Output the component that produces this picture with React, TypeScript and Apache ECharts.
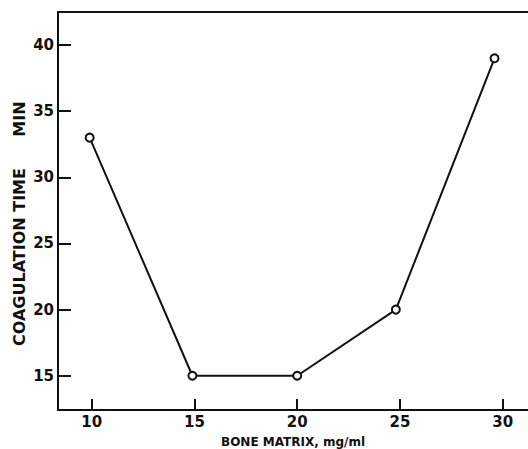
import React, { useEffect, useRef } from "react";
import * as echarts from "echarts";

const boneMatrix = [9.9, 14.9, 20, 24.8, 29.6];
const coagulationTime = [33, 15, 15, 20, 39];
const xTicks = [10, 15, 20, 25, 30];
const yTicks = [15, 20, 25, 30, 35, 40];
const xTitle = "BONE MATRIX, mg/ml";
const yTitleMain = "COAGULATION TIME";
const yTitleUnit = "MIN";

export default function App() {
  const ref = useRef<HTMLDivElement>(null);
  useEffect(() => {
    if (!ref.current) return;
    const chart = echarts.init(ref.current, null, { renderer: "svg" });
    const labelFont = {
      fontFamily: "DejaVu Sans",
      fontWeight: "bold" as const,
      fontSize: 15,
      color: "#111",
    };
    chart.setOption({
      animation: false,
      backgroundColor: "#fff",
      grid: {
        left: 58,
        right: 0,
        top: 12,
        bottom: 39,
        containLabel: false,
        outerBoundsMode: "none",
      },
      xAxis: [
        {
          type: "value",
          min: 8.36,
          max: 31.23,
          position: "bottom",
          name: xTitle,
          nameLocation: "middle",
          nameGap: 26,
          nameTextStyle: {
            fontFamily: "DejaVu Sans",
            fontWeight: "bold",
            fontSize: 12,
            color: "#111",
          },
          axisLine: { show: true, onZero: false, lineStyle: { color: "#111", width: 2 } },
          axisTick: {
            show: true,
            inside: true,
            length: 11,
            customValues: xTicks,
            lineStyle: { color: "#111", width: 2 },
          },
          axisLabel: { show: true, margin: 4, customValues: xTicks, ...labelFont },
          splitLine: { show: false },
        },
        {
          type: "value",
          min: 8.36,
          max: 31.23,
          position: "top",
          axisLine: { show: true, onZero: false, lineStyle: { color: "#111", width: 2 } },
          axisTick: { show: false },
          axisLabel: { show: false },
          splitLine: { show: false },
        },
      ],
      yAxis: {
        type: "value",
        min: 12.41,
        max: 42.5,
        axisLine: { show: true, onZero: false, lineStyle: { color: "#111", width: 2 } },
        axisTick: {
          show: true,
          inside: true,
          length: 13,
          customValues: yTicks,
          lineStyle: { color: "#111", width: 2 },
        },
        axisLabel: { show: true, margin: 4, customValues: yTicks, ...labelFont },
        splitLine: { show: false },
      },
      graphic: [
        {
          type: "text",
          x: 19,
          y: 257,
          rotation: Math.PI / 2,
          style: {
            text: yTitleMain,
            fontFamily: "DejaVu Sans",
            fontWeight: "bold",
            fontSize: 16,
            fill: "#111",
            align: "center",
            verticalAlign: "middle",
          },
        },
        {
          type: "text",
          x: 19,
          y: 119,
          rotation: Math.PI / 2,
          style: {
            text: yTitleUnit,
            fontFamily: "DejaVu Sans",
            fontWeight: "bold",
            fontSize: 16,
            fill: "#111",
            align: "center",
            verticalAlign: "middle",
          },
        },
      ],
      series: [
        {
          type: "line",
          xAxisIndex: 0,
          data: boneMatrix.map((x, i) => [x, coagulationTime[i]]),
          symbol: "circle",
          symbolSize: 8,
          showAllSymbol: true,
          lineStyle: { color: "#111", width: 2 },
          itemStyle: { color: "#fff", borderColor: "#111", borderWidth: 2 },
        },
      ],
    });
    return () => chart.dispose();
  }, []);
  return <div ref={ref} style={{ width: 528, height: 449, position: "absolute", left: 0, top: 0 }} />;
}
